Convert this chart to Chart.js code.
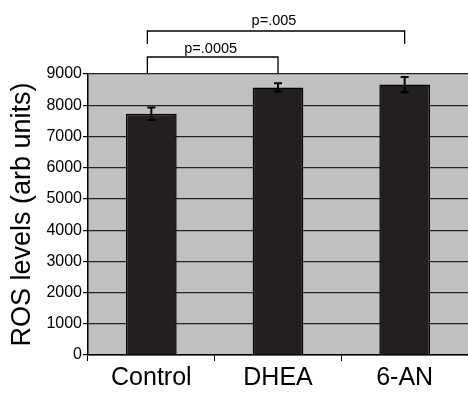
<!DOCTYPE html>
<html><head><meta charset="utf-8">
<script src="https://cdn.jsdelivr.net/npm/chart.js@4/dist/chart.umd.min.js"></script>
<style>html,body{margin:0;padding:0;background:#fff}#wrap{width:468px;height:395px}</style>
</head><body><div id="wrap"><canvas id="c" width="468" height="395"></canvas></div>
<script>
const categories = ["Control", "DHEA", "6-AN"];
const rosMeans = [7730, 8570, 8660];
const rosErrors = [200, 130, 245];
const yTicks = [0,1000,2000,3000,4000,5000,6000,7000,8000,9000];
const comparisons = [
  {from: 0, to: 1, label: "p=.0005", level: 1},
  {from: 0, to: 2, label: "p=.005", level: 2}
];
const FONT = '"Liberation Sans", Arial, sans-serif';

const bgPlugin = {
  id: 'bg',
  beforeDraw(chart){
    const {ctx, chartArea:a} = chart;
    ctx.save(); ctx.fillStyle = '#c0c0c0';
    ctx.fillRect(a.left, a.top, a.right-a.left, a.bottom-a.top);
    ctx.restore();
  }
};
const errPlugin = {
  id: 'err',
  afterDatasetsDraw(chart){
    const {ctx} = chart; const x = chart.scales.x, y = chart.scales.y;
    ctx.save(); ctx.strokeStyle = '#000'; ctx.lineWidth = 2;
    rosMeans.forEach((m,i)=>{
      const px = x.getPixelForValue(i);
      const t = y.getPixelForValue(m+rosErrors[i]), b = y.getPixelForValue(m-rosErrors[i]);
      ctx.beginPath();
      ctx.moveTo(px,t); ctx.lineTo(px,b);
      ctx.moveTo(px-4,t); ctx.lineTo(px+4,t);
      ctx.moveTo(px-4,b); ctx.lineTo(px+4,b);
      ctx.stroke();
    });
    const top = y.getPixelForValue(9000);
    ctx.lineWidth = 1.3; ctx.fillStyle = '#000';
    ctx.font = '14.5px ' + FONT;
    ctx.textAlign = 'center'; ctx.textBaseline = 'alphabetic';
    comparisons.forEach(c=>{
      const x1 = x.getPixelForValue(c.from)-4, x2 = x.getPixelForValue(c.to);
      const h = top - 17 - (c.level-1)*26;
      const legBottom = top - 1 - (c.level-1)*29;
      ctx.beginPath();
      ctx.moveTo(x1, legBottom); ctx.lineTo(x1, h); ctx.lineTo(x2, h); ctx.lineTo(x2, legBottom);
      ctx.stroke();
      ctx.fillText(c.label, (x1+x2)/2 - 2, h - 4 - (c.level-1)*2);
    });
    ctx.restore();
  }
};

new Chart(document.getElementById('c'), {
  type: 'bar',
  data: { labels: categories, datasets: [{ data: rosMeans, backgroundColor: '#231f20', borderColor: '#000', borderWidth: 1.5, barPercentage: 0.8, categoryPercentage: 0.5 }] },
  options: {
    responsive: false, animation: false,
    layout: { padding: { top: 74, right: 0, left: 6, bottom: 0 } },
    plugins: { legend: {display:false}, tooltip: {enabled:false} },
    scales: {
      x: {
        offset: true,
        grid: { offset: true, drawOnChartArea: false, color: '#000', tickLength: 6 },
        border: { color: '#000', width: 1.5 },
        ticks: { color: '#000', font: { size: 25, family: FONT }, padding: 2 }
      },
      y: {
        min: 0, max: 9000,
        afterBuildTicks(s){ s.ticks = yTicks.map(v=>({value:v})); },
        grid: { color: '#222', lineWidth: 1.2, tickLength: 5, tickColor: '#000' },
        border: { color: '#000', width: 1.5 },
        ticks: { color: '#000', font: { size: 16, family: FONT }, padding: 1, callback: v => String(v) },
        title: { display: true, text: 'ROS levels (arb units)', color: '#000', font: { size: 27, family: FONT }, padding: { top: 0, bottom: 7 } }
      }
    }
  },
  plugins: [bgPlugin, errPlugin]
});
</script></body></html>
